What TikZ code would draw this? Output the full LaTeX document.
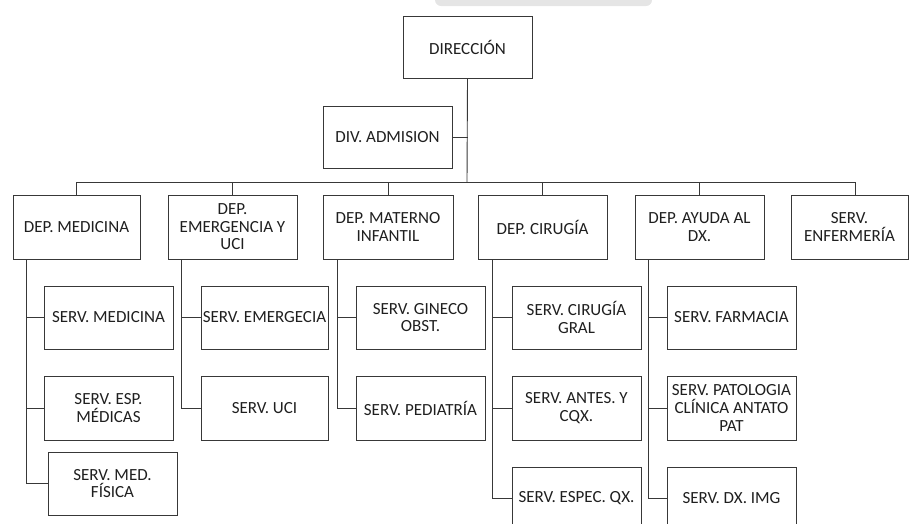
\documentclass[tikz,border=0pt]{standalone}
\usepackage{fontspec}
\setmainfont{Carlito}
\begin{document}
\begin{tikzpicture}[x=1pt,y=-1pt,
  box/.style={draw=black!78, line width=0.9pt, fill=white, inner sep=0pt, align=center,
    text=black!88, font=\fontsize{17}{17.6}\selectfont, minimum height=63pt, minimum width=129pt},
  link/.style={draw=black!78, line width=0.9pt}]
\useasboundingbox (0,0) rectangle (910,523);
\clip (0,0) rectangle (910,523);
\fill[black!10, rounded corners=6pt] (435,-12) rectangle (652,6);
% top
\node[box, minimum height=62pt] (dir) at (467.5,47) {DIRECCIÓN};
\node[box, minimum height=62pt] (adm) at (387.5,137) {DIV. ADMISION};
% departments
\node[box, minimum width=127pt, minimum height=64pt] (med) at (76.5,227) {DEP. MEDICINA};
\node[box, minimum height=64pt] (eme) at (232.5,227) {DEP.\\EMERGENCIA Y\\UCI};
\node[box, minimum width=130pt, minimum height=64pt] (mat) at (388,227) {DEP. MATERNO\\INFANTIL};
\node[box, minimum height=64pt] (cir) at (542.5,227) {DEP. CIRUGÍA};
\node[box, minimum height=64pt] (ayu) at (699.5,227) {DEP. AYUDA AL\\DX.};
\node[box, minimum width=117pt, minimum height=64pt] (enf) at (849.5,227) {SERV.\\ENFERMERÍA};
% services
\node[box] (smed) at (108.5,317.5) {SERV. MEDICINA};
\node[box, minimum height=64pt] (sesp) at (108.5,408) {SERV. ESP.\\MÉDICAS};
\node[box] (sfis) at (112.5,483.5) {SERV. MED.\\FÍSICA};
\node[box, minimum width=127pt] (seme) at (264.5,317.5) {SERV. EMERGECIA};
\node[box, minimum width=127pt, minimum height=64pt] (suci) at (264.5,408) {SERV. UCI};
\node[box] (sgin) at (420.5,317.5) {SERV. GINECO\\OBST.};
\node[box, minimum height=64pt] (sped) at (420.5,408) {SERV. PEDIATRÍA};
\node[box] (scir) at (576.5,317.5) {SERV. CIRUGÍA\\GRAL};
\node[box, minimum height=64pt] (sant) at (576.5,408) {SERV. ANTES. Y\\CQX.};
\node[box] (sesq) at (576.5,498.5) {SERV. ESPEC. QX.};
\node[box] (sfar) at (731.5,317.5) {SERV. FARMACIA};
\node[box, minimum height=64pt] (spat) at (731.5,408) {SERV. PATOLOGIA\\CLÍNICA ANTATO\\PAT};
\node[box] (sdx) at (731.5,498.5) {SERV. DX. IMG};
% connectors
\coordinate (hb) at (467,182);
\coordinate (enftop) at (855,195);
\draw[link] (dir.south) -- (hb);
\draw[link] (adm.east) -- (adm.east -| dir.south);
\draw[link] (med.north |- hb) -- (enftop |- hb);
\foreach \d in {med,eme,mat,cir,ayu}{
  \draw[link] (\d.north) -- (\d.north |- hb);
}
\draw[link] (enftop) -- (enftop |- hb);
% sub columns
\draw[link] ([xshift=-50.5pt]med.south) |- (sfis.west);
\draw[link] ([xshift=-50.5pt]med.south |- smed.west) -- (smed.west);
\draw[link] ([xshift=-50.5pt]med.south |- sesp.west) -- (sesp.west);
\draw[link] ([xshift=-51.5pt]eme.south) |- (suci.west);
\draw[link] ([xshift=-51.5pt]eme.south |- seme.west) -- (seme.west);
\draw[link] ([xshift=-51pt]mat.south) |- (sped.west);
\draw[link] ([xshift=-51pt]mat.south |- sgin.west) -- (sgin.west);
\draw[link] ([xshift=-50.5pt]cir.south) |- (sesq.west);
\draw[link] ([xshift=-50.5pt]cir.south |- scir.west) -- (scir.west);
\draw[link] ([xshift=-50.5pt]cir.south |- sant.west) -- (sant.west);
\draw[link] ([xshift=-51.5pt]ayu.south) |- (sdx.west);
\draw[link] ([xshift=-51.5pt]ayu.south |- sfar.west) -- (sfar.west);
\draw[link] ([xshift=-51.5pt]ayu.south |- spat.west) -- (spat.west);
\end{tikzpicture}
\end{document}
